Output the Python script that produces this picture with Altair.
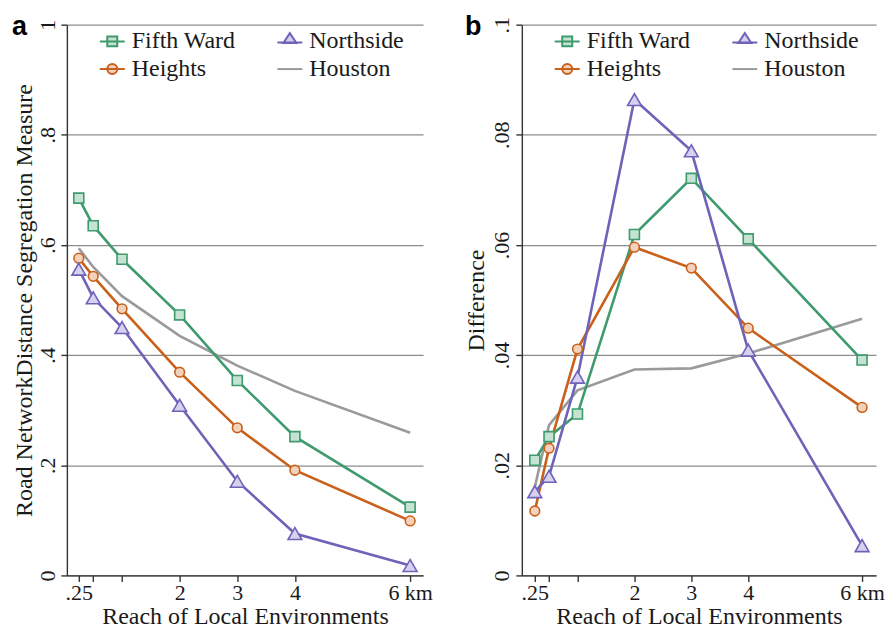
import altair as alt
import pandas as pd

# ---------------- data ----------------
reach_km = [0.25, 0.5, 1, 2, 3, 4, 6]
series_names = ["Fifth Ward", "Heights", "Northside", "Houston"]

a_fifth_ward = [0.685, 0.635, 0.574, 0.473, 0.354, 0.252, 0.124]
a_heights = [0.576, 0.543, 0.484, 0.369, 0.268, 0.191, 0.099]
a_northside = [0.556, 0.504, 0.450, 0.309, 0.171, 0.076, 0.018]
a_houston = [0.594, 0.560, 0.507, 0.435, 0.381, 0.335, 0.259]

b_fifth_ward = [0.0209, 0.0252, 0.0293, 0.0619, 0.0721, 0.0611, 0.0391]
b_heights = [0.0117, 0.0231, 0.0411, 0.0596, 0.0558, 0.0449, 0.0305]
b_northside = [0.0152, 0.0180, 0.0360, 0.0864, 0.0771, 0.0409, 0.0054]
b_houston = [0.0160, 0.0273, 0.0336, 0.0374, 0.0376, 0.0403, 0.0466]

a_y_ticks = [0, 0.2, 0.4, 0.6, 0.8, 1]
b_y_ticks = [0, 0.02, 0.04, 0.06, 0.08, 0.1]
panel_letters = ["a", "b"]

line_colors = ["#3f9a6e", "#c9601c", "#6e63b8", "#9a9a9a"]
fill_colors = ["#c4e3d3", "#f3d2bb", "#d6d1ee", "#d9d9d9"]
marker_shapes = ["square", "circle", "triangle-up", None]
marker_sizes = [100, 95, 190, 0]
legend_shapes = [
    "M-1,0H1M-0.4,-0.4H0.4V0.4H-0.4Z",
    "M-1,0H1M0.4,0A0.4,0.4 0 1,1 -0.4,0A0.4,0.4 0 1,1 0.4,0Z",
    "M-1,0.08H1M0,-0.66L0.52,0.12H-0.52Z",
    "M-1,0H1",
]

SERIF = "Liberation Serif"


def make_df(fw, hg, ns, hou):
    rows = []
    for name, vals in zip(series_names, [fw, hg, ns, hou]):
        for xv, yv in zip(reach_km, vals):
            rows.append({"reach": xv, "value": yv, "series": name})
    return pd.DataFrame(rows)


x_label_expr = ("datum.value == 0.25 ? '.25' : datum.value == 6 ? '6 km' : "
                "(datum.value >= 2 ? toString(datum.value) : '')")
y_label_expr = ("datum.value >= 1 ? toString(datum.value) : datum.value == 0 ? '0' : "
                "substring(toString(datum.value), 1)")


def panel(df, letter, ytitle, ydomain, yticks, xdomain, width, letter_x, legend_x,
          y_label_pad, y_title_pad):
    x_enc = alt.X(
        "reach:Q",
        scale=alt.Scale(domain=xdomain, nice=False, zero=False),
        axis=alt.Axis(
            values=reach_km, labelExpr=x_label_expr, title="Reach of Local Environments",
            grid=False, tickSize=6, labelPadding=1, titlePadding=1,
            labelFlush=False, labelOverlap=False,
        ),
    )
    y_enc = alt.Y(
        "value:Q",
        scale=alt.Scale(domain=ydomain, nice=False, zero=True),
        axis=alt.Axis(
            values=yticks, labelExpr=y_label_expr, title=ytitle,
            grid=True, tickSize=6, labelAngle=270, labelAlign="center",
            labelBaseline="bottom", labelPadding=y_label_pad, titlePadding=y_title_pad,
        ),
    )
    layers = []
    for i in [3, 0, 1, 2]:
        name = series_names[i]
        layers.append(
            alt.Chart(df).transform_filter(alt.datum.series == name)
            .mark_line(strokeWidth=2.6, color=line_colors[i])
            .encode(x=x_enc if not layers else "reach:Q", y=y_enc if not layers else "value:Q")
        )
    for i in [0, 1, 2]:
        name = series_names[i]
        layers.append(
            alt.Chart(df).transform_filter(alt.datum.series == name)
            .mark_point(shape=marker_shapes[i], size=marker_sizes[i], filled=False,
                        stroke=line_colors[i], fill=fill_colors[i], strokeWidth=1.6,
                        opacity=1)
            .encode(x="reach:Q", y="value:Q")
        )
    leg_props = dict(
        title=None, orient="none", legendX=legend_x, legendY=3, columns=2, padding=0,
        columnPadding=37, rowPadding=2, symbolSize=625, symbolOpacity=1,
        symbolStrokeWidth=2, labelFont=SERIF, labelFontSize=24, labelColor="#1a1a1a",
        labelOffset=6, symbolLimit=0,
    )
    layers.append(
        alt.Chart(df).mark_point(filled=False, strokeWidth=2, size=625, opacity=0).encode(
            x="reach:Q", y="value:Q",
            color=alt.Color("series:N", scale=alt.Scale(domain=series_names, range=line_colors),
                            legend=alt.Legend(**leg_props)),
            fill=alt.Fill("series:N", scale=alt.Scale(domain=series_names, range=fill_colors),
                          legend=alt.Legend(**leg_props)),
            shape=alt.Shape("series:N", scale=alt.Scale(domain=series_names, range=legend_shapes),
                            legend=alt.Legend(**leg_props)),
        )
    )
    layers.append(
        alt.Chart(pd.DataFrame({"letter": [letter]}))
        .mark_text(align="left", baseline="alphabetic", font="Liberation Sans",
                   fontSize=27, fontWeight="bold", color="#000")
        .encode(x=alt.value(letter_x), y=alt.value(10), text="letter:N")
    )
    return alt.layer(*layers).properties(width=width, height=552)


df_a = make_df(a_fifth_ward, a_heights, a_northside, a_houston)
df_b = make_df(b_fifth_ward, b_heights, b_northside, b_houston)

pa = panel(df_a, panel_letters[0], "Road NetworkDistance Segregation Measure", [0, 1],
           a_y_ticks, [0.043, 6.224], 357, -55, 32, 1, 0)
pb = panel(df_b, panel_letters[1], "Difference", [0, 0.1], b_y_ticks,
           [0.022, 6.245], 355, -57, 32, 2, 2)

chart = alt.hconcat(pa, pb, spacing=32).resolve_scale(
    color="independent", fill="independent", shape="independent"
).resolve_legend(
    color="independent", fill="independent", shape="independent"
).properties(
    padding={"left": 4, "top": 4, "right": 0, "bottom": 1}
).configure_view(stroke=None).configure_axis(
    labelFont=SERIF, titleFont=SERIF, labelFontSize=22, titleFontSize=24,
    labelColor="#1a1a1a", titleColor="#1a1a1a", titleFontWeight="normal",
    domainColor="#333333", tickColor="#333333", domainWidth=1.4, tickWidth=1.4,
    gridColor="#8c8c8c", gridWidth=1.3,
)

chart.save("out.html", embed_options={"renderer": "svg", "actions": False})
